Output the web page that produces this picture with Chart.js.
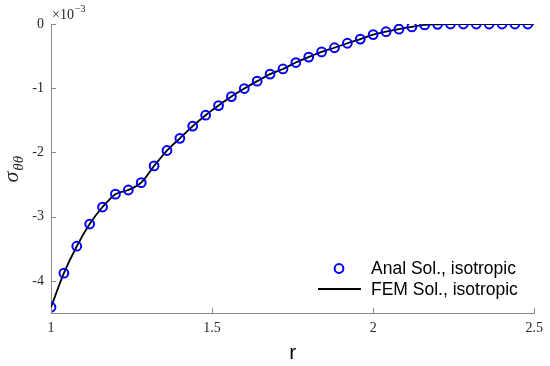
<!DOCTYPE html>
<html>
<head>
<meta charset="utf-8">
<script src="https://cdn.jsdelivr.net/npm/chart.js@4.4.1/dist/chart.umd.min.js"></script>
<style>
  html, body { margin: 0; padding: 0; background: #ffffff; }
  #wrap { width: 550px; height: 366px; position: relative; }
</style>
</head>
<body>
<div id="wrap"><canvas id="c" width="550" height="366"></canvas></div>
<script>
// ---- data (sigma in units of 1e-3) ----
const rAnal = [1.00, 1.04, 1.08, 1.12, 1.16, 1.20, 1.24, 1.28, 1.32, 1.36,
               1.40, 1.44, 1.48, 1.52, 1.56, 1.60, 1.64, 1.68, 1.72, 1.76,
               1.80, 1.84, 1.88, 1.92, 1.96, 2.00, 2.04, 2.08, 2.12, 2.16,
               2.20, 2.24, 2.28, 2.32, 2.36, 2.40, 2.44, 2.48];
const sigmaAnal = [-4.41, -3.88, -3.46, -3.115, -2.85, -2.65, -2.585, -2.47, -2.21, -1.97,
                   -1.78, -1.59, -1.42, -1.27, -1.13, -1.005, -0.89, -0.78, -0.70, -0.60,
                   -0.515, -0.435, -0.37, -0.30, -0.235, -0.165, -0.12, -0.08, -0.045, -0.015,
                   -0.005, 0, 0, 0, 0, 0, 0, 0];
const rFEM = [1.00, 1.04, 1.08, 1.12, 1.16, 1.20, 1.24, 1.28, 1.32, 1.36,
              1.40, 1.44, 1.48, 1.52, 1.56, 1.60, 1.64, 1.68, 1.72, 1.76,
              1.80, 1.84, 1.88, 1.92, 1.96, 2.00, 2.04, 2.08, 2.12, 2.16,
              2.20, 2.24, 2.28, 2.32, 2.36, 2.40, 2.44, 2.48, 2.50];
const sigmaFEM = [-4.41, -3.88, -3.46, -3.115, -2.85, -2.65, -2.585, -2.47, -2.21, -1.97,
                  -1.78, -1.59, -1.42, -1.27, -1.13, -1.005, -0.89, -0.78, -0.70, -0.60,
                  -0.515, -0.435, -0.37, -0.30, -0.235, -0.165, -0.12, -0.08, -0.045, -0.015,
                  -0.005, 0, 0, 0, 0, 0, 0, 0, 0];
const xTicks = [1, 1.5, 2, 2.5];
const xTickLabels = ['1', '1.5', '2', '2.5'];
const yTicks = [0, -1, -2, -3, -4];
const yTickLabels = ['0', '-1', '-2', '-3', '-4'];
const legendLabels = ['Anal Sol., isotropic', 'FEM Sol., isotropic'];
const xTitle = 'r';
const yTitleMain = 'σ';
const yTitleSub = 'θθ';
const expLabelBase = '×10';
const expLabelPow = '−3';

const AXIS_COLOR = '#8a8a8a';
const TEXT_COLOR = '#262626';
const SERIF = '"Liberation Serif", "DejaVu Serif", serif';
const SANS = '"Liberation Sans", Arial, Helvetica, sans-serif';

const decorPlugin = {
  id: 'decor',
  afterDraw(chart) {
    const ctx = chart.ctx;
    const xs = chart.scales.x, ys = chart.scales.y;
    const area = chart.chartArea;
    ctx.save();
    // inward ticks
    ctx.strokeStyle = AXIS_COLOR;
    ctx.lineWidth = 1;
    ctx.beginPath();
    xTicks.forEach(v => {
      const px = Math.round(xs.getPixelForValue(v)) + 0.5;
      ctx.moveTo(px, area.bottom);
      ctx.lineTo(px, area.bottom - 5);
    });
    yTicks.forEach(v => {
      const py = Math.round(ys.getPixelForValue(v)) + 0.5;
      ctx.moveTo(area.left, py);
      ctx.lineTo(area.left + 5, py);
    });
    ctx.stroke();

    // exponent label
    ctx.fillStyle = TEXT_COLOR;
    ctx.textBaseline = 'alphabetic';
    ctx.textAlign = 'left';
    ctx.font = '14px ' + SERIF;
    const ex = area.left + 1, ey = area.top - 5;
    ctx.fillText(expLabelBase, ex, ey);
    const w = ctx.measureText(expLabelBase).width;
    ctx.font = '10px ' + SERIF;
    ctx.fillText(expLabelPow, ex + w + 1, ey - 7);

    // y title sigma_thetatheta rotated
    ctx.save();
    const cy = (area.top + area.bottom) / 2;
    ctx.translate(18, cy + 14);
    ctx.rotate(-Math.PI / 2);
    ctx.font = 'italic 22px ' + SERIF;
    ctx.textAlign = 'left';
    ctx.fillText(yTitleMain, 0, 0);
    const sw = ctx.measureText(yTitleMain).width;
    ctx.font = 'italic 15px ' + SERIF;
    ctx.fillText(yTitleSub, sw + 1, 5);
    ctx.restore();

    // legend
    const ds0 = chart.data.datasets[0], ds1 = chart.data.datasets[1];
    const lx = 339, ly0 = 268.5, ly1 = 289;
    ctx.beginPath();
    ctx.strokeStyle = ds0.borderColor;
    ctx.lineWidth = ds0.borderWidth;
    ctx.arc(lx, ly0, ds0.pointRadius, 0, Math.PI * 2);
    ctx.stroke();
    ctx.beginPath();
    ctx.strokeStyle = ds1.borderColor;
    ctx.lineWidth = ds1.borderWidth;
    ctx.moveTo(318, ly1);
    ctx.lineTo(361, ly1);
    ctx.stroke();
    ctx.fillStyle = '#000';
    ctx.font = '17.5px ' + SANS;
    ctx.textBaseline = 'middle';
    ctx.textAlign = 'left';
    ctx.fillText(legendLabels[0], 371, ly0 + 1);
    ctx.fillText(legendLabels[1], 371, ly1 + 1);
    ctx.restore();
  }
};

new Chart(document.getElementById('c'), {
  type: 'scatter',
  data: {
    datasets: [
      {
        label: legendLabels[0],
        data: rAnal.map((r, i) => ({ x: r, y: sigmaAnal[i] })),
        showLine: false,
        pointStyle: 'circle',
        pointRadius: 4.4,
        pointBorderWidth: 2,
        borderWidth: 2,
        borderColor: '#0000ff',
        backgroundColor: 'rgba(0,0,0,0)',
        pointBackgroundColor: 'rgba(0,0,0,0)',
        pointBorderColor: '#0000ff',
        order: 1
      },
      {
        label: legendLabels[1],
        data: rFEM.map((r, i) => ({ x: r, y: sigmaFEM[i] })),
        showLine: true,
        pointRadius: 0,
        borderColor: '#000000',
        borderWidth: 1.8,
        cubicInterpolationMode: 'monotone',
        order: 2
      }
    ]
  },
  options: {
    responsive: false,
    animation: false,
    devicePixelRatio: 1,
    layout: { padding: { top: 24, right: 14, left: 0, bottom: 0 } },
    plugins: { legend: { display: false }, tooltip: { enabled: false } },
    scales: {
      x: {
        type: 'linear',
        min: 1, max: 2.5,
        afterBuildTicks: s => { s.ticks = xTicks.map(v => ({ value: v })); },
        afterFit: s => { s.height = 53; },
        grid: { display: false, drawTicks: false },
        border: { display: true, color: AXIS_COLOR, width: 1 },
        ticks: {
          padding: 7,
          color: TEXT_COLOR,
          font: { family: SERIF, size: 14 },
          maxRotation: 0,
          callback: (v) => { const i = xTicks.indexOf(v); return i >= 0 ? xTickLabels[i] : ''; }
        },
        title: {
          display: true,
          text: xTitle,
          color: '#000',
          font: { family: SANS, size: 21 },
          padding: { top: 5, bottom: 0 }
        }
      },
      y: {
        type: 'linear',
        min: -4.5, max: 0,
        afterBuildTicks: s => { s.ticks = yTicks.map(v => ({ value: v })); },
        afterFit: s => { s.width = 51; },
        grid: { display: false, drawTicks: false },
        border: { display: true, color: AXIS_COLOR, width: 1 },
        ticks: {
          padding: 7,
          color: TEXT_COLOR,
          font: { family: SERIF, size: 14 },
          callback: (v) => { const i = yTicks.indexOf(v); return i >= 0 ? yTickLabels[i] : ''; }
        }
      }
    }
  },
  plugins: [decorPlugin]
});
</script>
</body>
</html>
